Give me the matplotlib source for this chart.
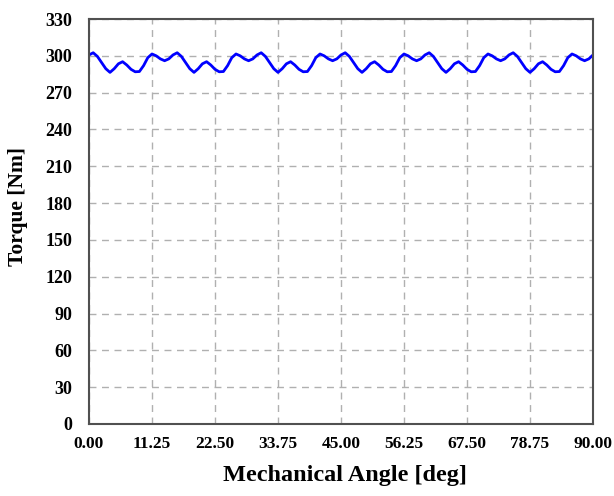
import numpy as np
import matplotlib
matplotlib.use("Agg")
import matplotlib.pyplot as plt

plt.rcParams['font.family'] = ['Liberation Serif', 'DejaVu Serif']

# Mechanical angle samples [deg], step 0.75 deg
angle = np.arange(0, 90.0001, 0.75)

# Torque [Nm] at each angle sample
torque = [
    300.7, 302.5, 299.5, 294.5, 289.5, 286.5, 289.5, 293.5, 295.2, 292.5,
    289.0, 287.0, 287.2, 292.0, 298.5, 301.5, 300.0, 297.5, 296.0, 297.5,
    300.7, 302.5, 299.5, 294.5, 289.5, 286.5, 289.5, 293.5, 295.2, 292.5,
    289.0, 287.0, 287.2, 292.0, 298.5, 301.5, 300.0, 297.5, 296.0, 297.5,
    300.7, 302.5, 299.5, 294.5, 289.5, 286.5, 289.5, 293.5, 295.2, 292.5,
    289.0, 287.0, 287.2, 292.0, 298.5, 301.5, 300.0, 297.5, 296.0, 297.5,
    300.7, 302.5, 299.5, 294.5, 289.5, 286.5, 289.5, 293.5, 295.2, 292.5,
    289.0, 287.0, 287.2, 292.0, 298.5, 301.5, 300.0, 297.5, 296.0, 297.5,
    300.7, 302.5, 299.5, 294.5, 289.5, 286.5, 289.5, 293.5, 295.2, 292.5,
    289.0, 287.0, 287.2, 292.0, 298.5, 301.5, 300.0, 297.5, 296.0, 297.5,
    300.7, 302.5, 299.5, 294.5, 289.5, 286.5, 289.5, 293.5, 295.2, 292.5,
    289.0, 287.0, 287.2, 292.0, 298.5, 301.5, 300.0, 297.5, 296.0, 297.5,
    300.7,
]

x_ticks = [0, 11.25, 22.5, 33.75, 45, 56.25, 67.5, 78.75, 90]
x_tick_labels = ["0.00", "11.25", "22.50", "33.75", "45.00", "56.25", "67.50", "78.75", "90.00"]
y_ticks = list(range(0, 331, 30))

W, H = 614, 496
fig = plt.figure(figsize=(W / 100, H / 100), dpi=100)
ax = fig.add_axes([89 / W, (H - 424) / H, 504 / W, 405 / H])

ax.plot(angle, torque, color="#0000ff", linewidth=2.0)

ax.set_xlim(0, 90)
ax.set_ylim(0, 330)
ax.set_xticks(x_ticks)
ax.set_xticklabels(x_tick_labels)
ax.set_yticks(y_ticks)

ax.grid(True, color="#b0b0b0", linestyle=(0, (5, 4)), linewidth=1.0)
ax.tick_params(axis="x", length=0, pad=9, labelsize=12.5)
ax.tick_params(axis="y", length=0, pad=12, labelsize=13)
for lbl in ax.get_xticklabels() + ax.get_yticklabels():
    lbl.set_fontweight("bold")

for sp in ax.spines.values():
    sp.set_color("#505050")
    sp.set_linewidth(1.5)

fig.text(345 / W, (H - 475) / H, "Mechanical Angle [deg]", fontsize=17.5,
         fontweight="bold", ha="center", va="center")
fig.text(18 / W, (H - 206) / H, "Torque [Nm]", fontsize=15.5,
         fontweight="bold", ha="center", va="center", rotation=90)

fig.savefig("out.png", dpi=100)
